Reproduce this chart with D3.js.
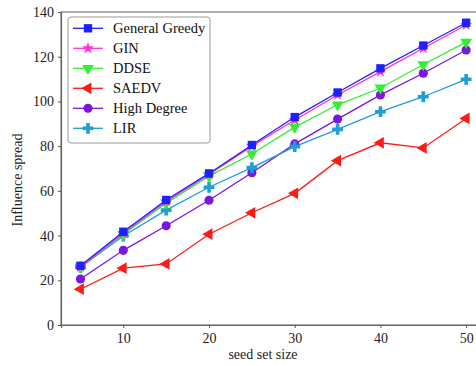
<!DOCTYPE html>
<html>
<head>
<meta charset="utf-8">
<script src="https://cdn.jsdelivr.net/npm/d3@7"></script>
<style>
  body { margin: 0; background: #fff; }
  svg text { font-family: "Liberation Serif", "DejaVu Serif", serif; }
</style>
</head>
<body>
<svg id="chart" width="476" height="366"></svg>
<script>
var seedSizes = [5, 10, 15, 20, 25, 30, 35, 40, 45, 50];
var yTicks = [0, 20, 40, 60, 80, 100, 120, 140];
var xTicks = [10, 20, 30, 40, 50];

var generalGreedy = [26.5, 41.7, 55.9, 67.8, 80.5, 93, 104, 114.8, 125, 135.2];
var gin = [26, 41, 55.3, 67.3, 80, 91.7, 102.9, 113.3, 123.8, 134.2];
var ddse = [26, 40.5, 54.5, 66.6, 76.5, 88.5, 98.5, 106, 116.5, 126.5];
var saedv = [16, 25.4, 27.3, 40.6, 50.2, 58.9, 73.5, 81.5, 79.2, 92.4];
var highDegree = [20.6, 33.4, 44.4, 55.8, 68.1, 81, 92.1, 102.9, 112.6, 123];
var lir = [25.8, 39.8, 51.4, 61.6, 70.4, 79.8, 87.5, 95.4, 102.1, 109.9];

var series = [
  { name: "General Greedy", values: generalGreedy, color: "#1f1fff", symbol: d3.symbolSquare, size: 70, rot: 0 },
  { name: "GIN", values: gin, color: "#ff33cc", symbol: d3.symbolStar, size: 45, rot: 0 },
  { name: "DDSE", values: ddse, color: "#33ee33", symbol: d3.symbolTriangle, size: 60, rot: 180 },
  { name: "SAEDV", values: saedv, color: "#ff1a1a", symbol: d3.symbolTriangle, size: 60, rot: -90 },
  { name: "High Degree", values: highDegree, color: "#7a16e0", symbol: d3.symbolCircle, size: 65, rot: 0 },
  { name: "LIR", values: lir, color: "#1e9ed6", symbol: d3.symbolCross, size: 65, rot: 0 }
];

var svg = d3.select("#chart");
// plot box runs past the right edge of the picture, as in the original
var plotLeft = 61, plotRight = 482, plotTop = 12, plotBottom = 325;

var x = d3.scaleLinear().domain([2.73, 51.85]).range([plotLeft, plotRight]);
var y = d3.scaleLinear().domain([0, 140]).range([plotBottom, plotTop]);

// frame
svg.append("rect")
  .attr("x", plotLeft).attr("y", plotTop)
  .attr("width", plotRight - plotLeft).attr("height", plotBottom - plotTop)
  .attr("fill", "none").attr("stroke", "#777").attr("stroke-width", 1.2);

var gx = svg.append("g")
  .attr("transform", "translate(0," + plotBottom + ")")
  .call(d3.axisBottom(x).tickValues(xTicks).tickSize(3).tickPadding(5));
var gy = svg.append("g")
  .attr("transform", "translate(" + plotLeft + ",0)")
  .call(d3.axisLeft(y).tickValues(yTicks).tickSize(3).tickPadding(4));

[gx, gy].forEach(function (g) {
  g.select(".domain").attr("stroke", "#666").attr("stroke-width", 1.2);
  g.selectAll(".tick line").attr("stroke", "#555");
  g.selectAll("text").attr("font-size", 14).attr("fill", "#222")
    .style("font-family", "Liberation Serif, serif");
});

svg.append("text")
  .attr("x", 263).attr("y", 359)
  .attr("text-anchor", "middle").attr("font-size", 14).attr("fill", "#222")
  .text("seed set size");

svg.append("text")
  .attr("transform", "translate(22,180) rotate(-90)")
  .attr("text-anchor", "middle").attr("font-size", 14).attr("fill", "#222")
  .text("Influence spread");

var line = d3.line()
  .x(function (d, i) { return x(seedSizes[i]); })
  .y(function (d) { return y(d); });

// draw lower series first so General Greedy sits on top
var order = [3, 4, 5, 2, 1, 0];
order.forEach(function (k) {
  var s = series[k];
  var g = svg.append("g");
  g.append("path")
    .datum(s.values)
    .attr("d", line)
    .attr("fill", "none")
    .attr("stroke", s.color)
    .attr("stroke-width", 1.3);
  g.selectAll("path.mk")
    .data(s.values)
    .enter().append("path")
    .attr("class", "mk")
    .attr("d", d3.symbol().type(s.symbol).size(s.size))
    .attr("transform", function (d, i) {
      return "translate(" + x(seedSizes[i]) + "," + y(d) + ") rotate(" + s.rot + ")";
    })
    .attr("fill", s.color);
});

// legend
var lg = svg.append("g");
lg.append("rect")
  .attr("x", 68).attr("y", 17).attr("width", 142).attr("height", 126)
  .attr("rx", 3)
  .attr("fill", "#fff").attr("stroke", "#999").attr("stroke-width", 1);

series.forEach(function (s, i) {
  var ly = 28.3 + i * 20;
  lg.append("line")
    .attr("x1", 73).attr("x2", 103).attr("y1", ly).attr("y2", ly)
    .attr("stroke", s.color).attr("stroke-width", 1.3);
  lg.append("path")
    .attr("d", d3.symbol().type(s.symbol).size(s.size))
    .attr("transform", "translate(88," + ly + ") rotate(" + s.rot + ")")
    .attr("fill", s.color);
  lg.append("text")
    .attr("x", 113).attr("y", ly + 5)
    .attr("font-size", 14.5).attr("fill", "#111")
    .text(s.name);
});
</script>
</body>
</html>
